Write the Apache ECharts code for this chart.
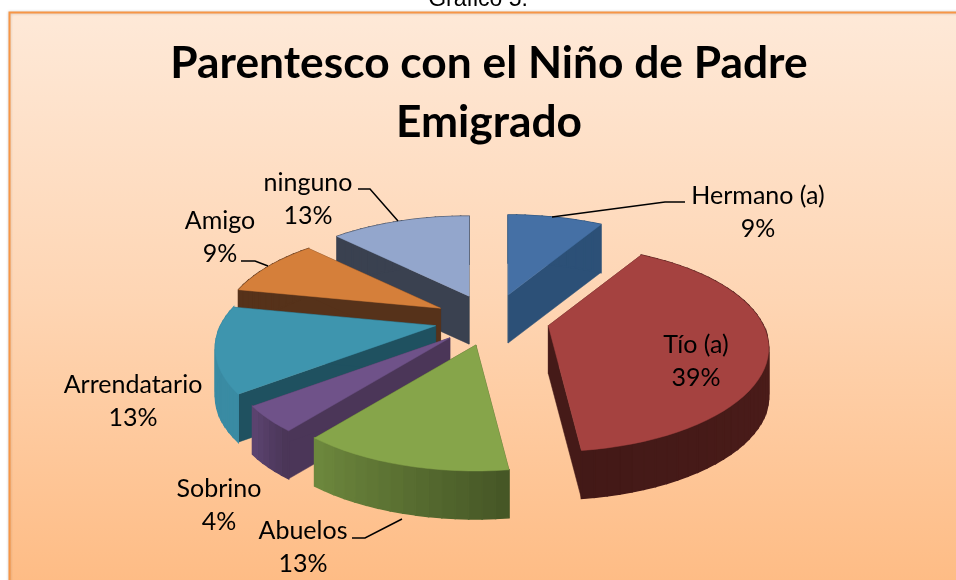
<!DOCTYPE html>
<html><head><meta charset="utf-8">
<style>html,body{margin:0;padding:0;background:#fff}#c{width:956px;height:580px}</style>
<script src="https://cdn.jsdelivr.net/npm/echarts@6/dist/echarts.min.js"></script>
</head><body><div id="c"></div>
<script>
const categories = ['Hermano (a)','Tío (a)','Abuelos','Sobrino','Arrendatario','Amigo','ninguno'];
const percentages = [9,39,13,4,13,9,13];
const topColors  = ['#4570a5','#a54240','#86a54a','#6f5289','#3e95ae','#d57f3a','#93a6cc'];
const wallColors = ['#2c5077','#451a18','#465726','#4b3658','#1f5160','#56321a','#3a4150'];
const rimFrom    = ['#2c5077','#521f1c','#465726','#4b3658','#3a8ba3','#56321a','#3a4150'];
const rimTo      = ['#2c5077','#431917','#6f8a3e','#5e4674','#3a8ba3','#56321a','#3a4150'];
const paintRank  = [1,5,6,4,3,2,0];
const labelAnchors = [[758,212],[696,361],[303,547],[219,505],[133,401],[220,237],[308,199]];
const leaders = [
  [[685,202],[665,202],[552,217]], null,
  [[352,538],[365,538],[402,519]], null, null,
  [[241,261],[255,261],[268,266]],
  [[358,189],[370,189],[398,221]]
];
const centre = [492,320], radiusX = 215, explode = 0.26, depth = 48;
const total = percentages.reduce((a,b)=>a+b,0);
function starts(i){let s=0;for(let k=0;k<i;k++)s+=percentages[k];return s/total*2*Math.PI;}
function proj(th){
  const u=Math.sin(th), v=-Math.cos(th), f=1+0.23*v;
  return [radiusX*u*f, 103*v+23*v*v];
}
function hex(c){return [1,3,5].map(i=>parseInt(c.substr(i,2),16));}
function mix(a,b,t){const A=hex(a),B=hex(b);return 'rgb('+A.map((x,i)=>Math.round(x+(B[i]-x)*t)).join(',')+')';}
function renderItem(params){
  const i=params.dataIndex, a0=starts(i), a1=starts(i+1), mid=(a0+a1)/2;
  const ax=centre[0]+explode*222*Math.sin(mid), ay=centre[1]-explode*100*Math.cos(mid);
  const z=paintRank[i]*10, rim=[], n=Math.max(6,Math.round((a1-a0)/0.05));
  for(let k=0;k<=n;k++){const p=proj(a0+(a1-a0)*k/n);rim.push([ax+p[0],ay+p[1]]);}
  const kids=[];
  const poly=(pts,fill,zz,lw)=>kids.push({type:'polygon',z2:zz,shape:{points:pts},style:{fill,stroke:fill,lineWidth:lw}});
  const down=p=>[p[0],p[1]+depth];
  const apex=[ax,ay];
  poly([apex,rim[0],down(rim[0]),down(apex)],wallColors[i],z,0.5);
  poly([apex,rim[n],down(rim[n]),down(apex)],wallColors[i],z,0.5);
  for(let k=0;k<n;k++){
    const c=mix(rimFrom[i],rimTo[i],k/n);
    poly([rim[k],rim[k+1],down(rim[k+1]),down(rim[k])],c,z+1,1.5);
  }
  poly([apex].concat(rim),topColors[i],z+2,0.5);
  const pos=labelAnchors[i];
  kids.push({type:'text',z2:200,style:{text:categories[i]+'\n'+percentages[i]+'%',x:pos[0],y:pos[1],
    align:'center',verticalAlign:'middle',fill:'#000',fontFamily:'Lato',fontSize:25,lineHeight:33}});
  if(leaders[i]) kids.push({type:'polyline',z2:199,shape:{points:leaders[i]},style:{fill:'none',stroke:'#000',lineWidth:1.5}});
  return {type:'group',children:kids};
}
const chart=echarts.init(document.getElementById('c'),null,{renderer:'canvas'});
chart.setOption({
  animation:false,
  backgroundColor:'#fff',
  graphic:[
    {type:'rect',z:-10,silent:true,shape:{x:9.5,y:12.5,width:960,height:580},
     style:{fill:{type:'linear',x:0,y:0,x2:0,y2:1,colorStops:[{offset:0,color:'#fee9d8'},{offset:0.5,color:'#fed5b3'},{offset:1,color:'#febb83'}]},
            stroke:'#f79646',lineWidth:2,shadowBlur:3,shadowColor:'rgba(0,0,0,0.2)'}},
    {type:'text',z:-11,silent:true,style:{text:'Gráfico 5:',x:478,y:-12,align:'center',verticalAlign:'top',fill:'#000',fontFamily:'Liberation Sans',fontSize:23}}
  ],
  title:{text:'Parentesco con el Niño de Padre\nEmigrado',left:489,top:34,padding:0,
    textAlign:'center',
    textStyle:{fontFamily:'Lato',fontWeight:'bold',fontSize:44.3,lineHeight:59,color:'#000'}},
  series:[{type:'custom',coordinateSystem:'none',renderItem,clip:false,silent:true,
    data:percentages.map((v,i)=>({name:categories[i],value:v}))}]
});
</script></body></html>
